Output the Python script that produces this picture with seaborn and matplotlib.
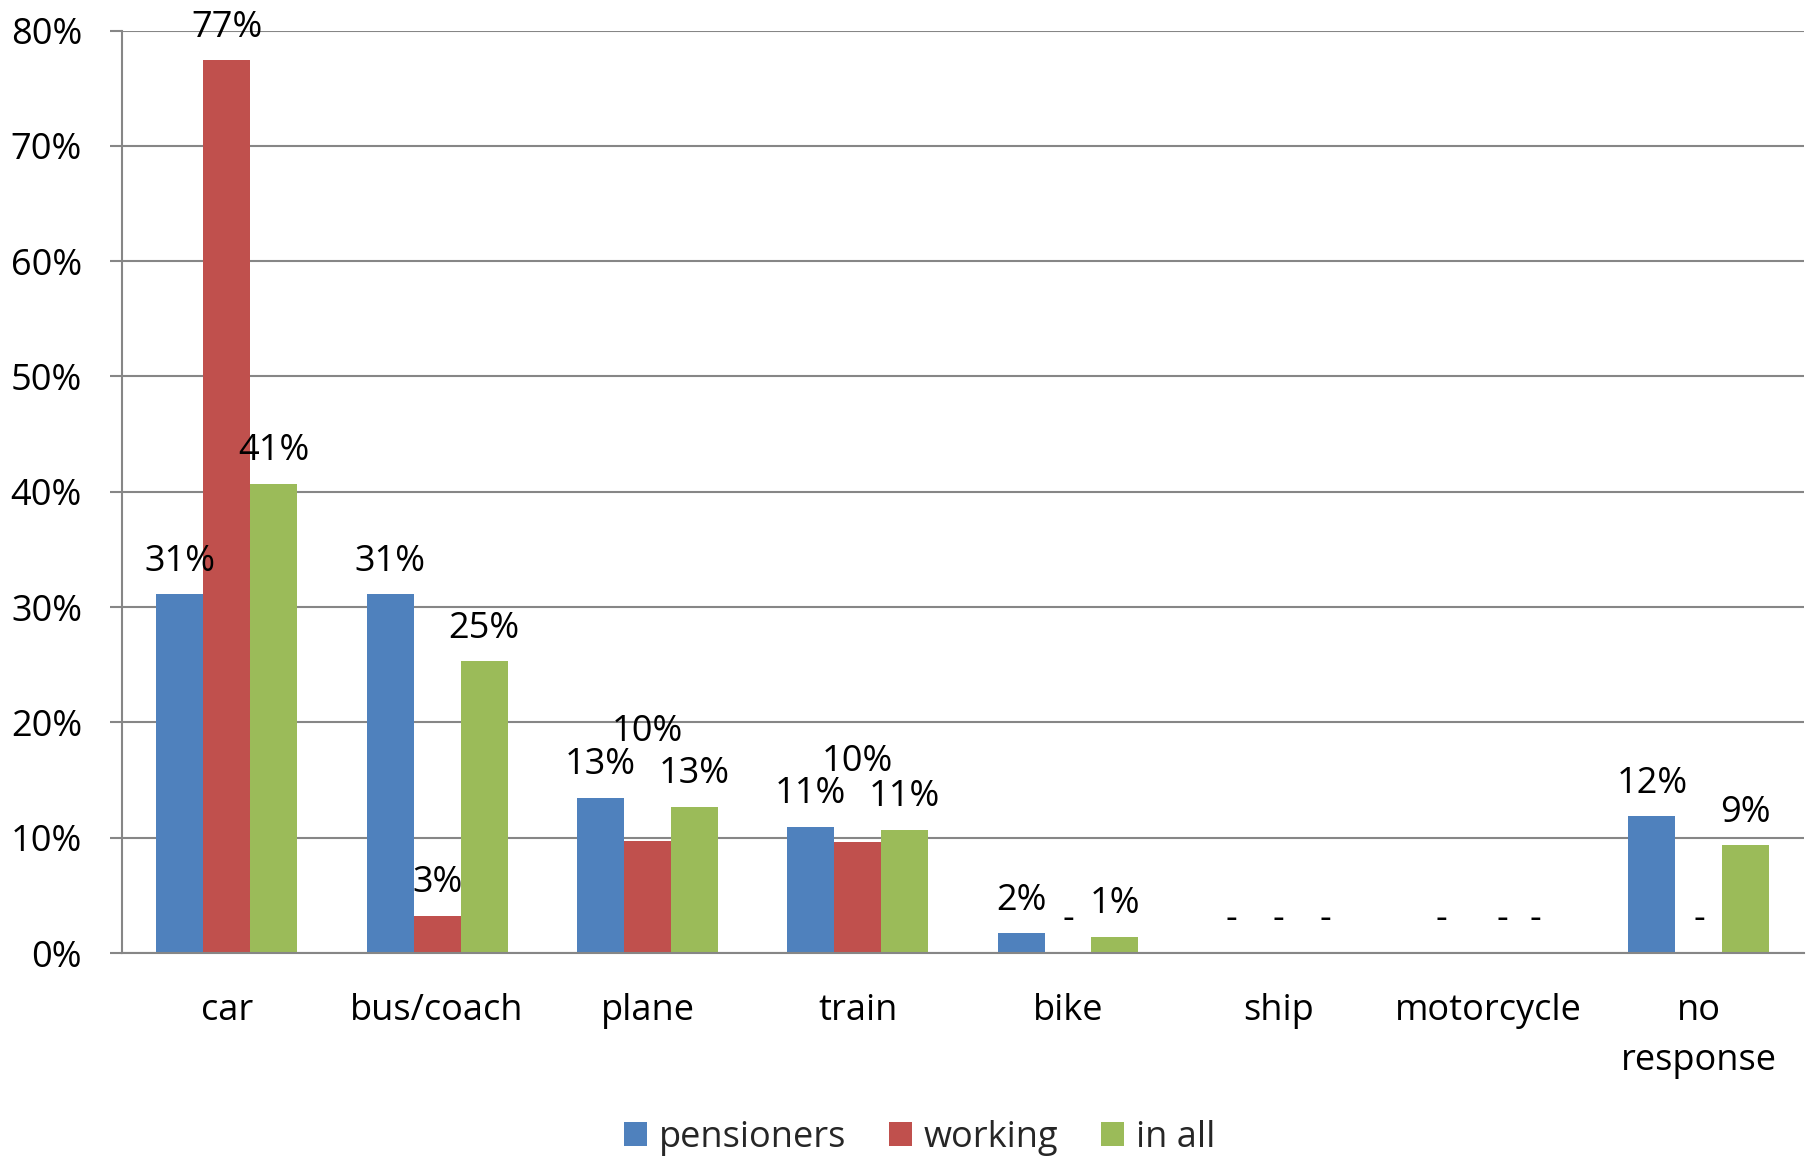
import matplotlib
matplotlib.use("Agg")
import matplotlib.pyplot as plt
import seaborn as sns
import pandas as pd
import numpy as np
from matplotlib.patches import Patch

categories = ["car", "bus/coach", "plane", "train", "bike", "ship", "motorcycle", "no\nresponse"]
groups = ["pensioners", "working", "in all"]
pensioners = [31.1, 31.1, 13.45, 10.95, 1.7, 0.0, 0.0, 11.85]
working = [77.4, 3.2, 9.7, 9.65, 0.0, 0.0, 0.0, 0.0]
in_all = [40.7, 25.3, 12.65, 10.7, 1.4, 0.0, 0.0, 9.35]
colors = ["#4F81BD", "#C0504D", "#9BBB59"]
yticks = [0, 10, 20, 30, 40, 50, 60, 70, 80]

series = {"pensioners": pensioners, "working": working, "in all": in_all}
df = pd.DataFrame(
    [(c, g, v) for g in groups for c, v in zip(categories, series[g])],
    columns=["mode", "group", "value"],
)

sns.set_theme(style="white")
plt.rcParams["font.family"] = ["Open Sans", "DejaVu Sans"]
FS = 26
GRAY = "#868686"

fig = plt.figure(figsize=(18.16, 11.56), dpi=100)
ax = fig.add_axes([0.067, 0.1756, 0.9264, 0.798])

sns.barplot(data=df, x="mode", y="value", hue="group", order=categories,
            hue_order=groups, palette=colors, saturation=1, width=0.67,
            errorbar=None, ax=ax, edgecolor="none", linewidth=0)

ax.set_xlim(-0.5, len(categories) - 0.5)
ax.set_ylim(0, 80)
ax.set_yticks(yticks)
ax.set_yticklabels([f"{v}%" for v in yticks], fontsize=FS, color="black")
ax.set_xlabel("")
ax.set_ylabel("")
ax.set_xticks(range(len(categories)))
ax.set_xticklabels(categories, fontsize=FS, color="black", linespacing=1.5)
ax.set_xticks(np.arange(-0.5, len(categories), 1.0), minor=True)
ax.tick_params(axis="x", which="major", length=0, pad=29)
ax.tick_params(axis="x", which="minor", length=8.6, width=1.5, color=GRAY, direction="out")
ax.tick_params(axis="y", which="major", length=8.6, width=1.5, color=GRAY, direction="out", pad=20, left=True)

ax.yaxis.grid(True, color=GRAY, linewidth=1.5)
ax.xaxis.grid(False)
ax.set_axisbelow(True)
for s in ["top", "right"]:
    ax.spines[s].set_visible(False)
for s in ["left", "bottom"]:
    ax.spines[s].set_color(GRAY)
    ax.spines[s].set_linewidth(1.5)

# data labels
extra = {("plane", "working"): (0, 55), ("train", "working"): (0, 34),
         ("motorcycle", "working"): (10, 0)}
for gi, (g, cont) in enumerate(zip(groups, ax.containers)):
    for ci, bar in enumerate(cont):
        v = series[g][ci]
        txt = "-" if v == 0 else f"{int(round(v))}%"
        dx, dy = extra.get((categories[ci], g), (0, 0))
        ax.annotate(txt, (bar.get_x() + bar.get_width() / 2, bar.get_height()),
                    xytext=(dx, 23.5 + dy), textcoords="offset points",
                    ha="center", va="center", fontsize=FS, color="black")

if ax.get_legend() is not None:
    ax.get_legend().remove()
handles = [Patch(facecolor=c, edgecolor="none") for c in colors]
fig.legend(handles, groups, loc="center", bbox_to_anchor=(0.5064, 0.016), ncol=3,
           frameon=False, fontsize=FS, handlelength=0.64, handleheight=0.64,
           handletextpad=0.33, columnspacing=1.17, borderpad=0, borderaxespad=0)

fig.savefig("out.png", dpi=100)
